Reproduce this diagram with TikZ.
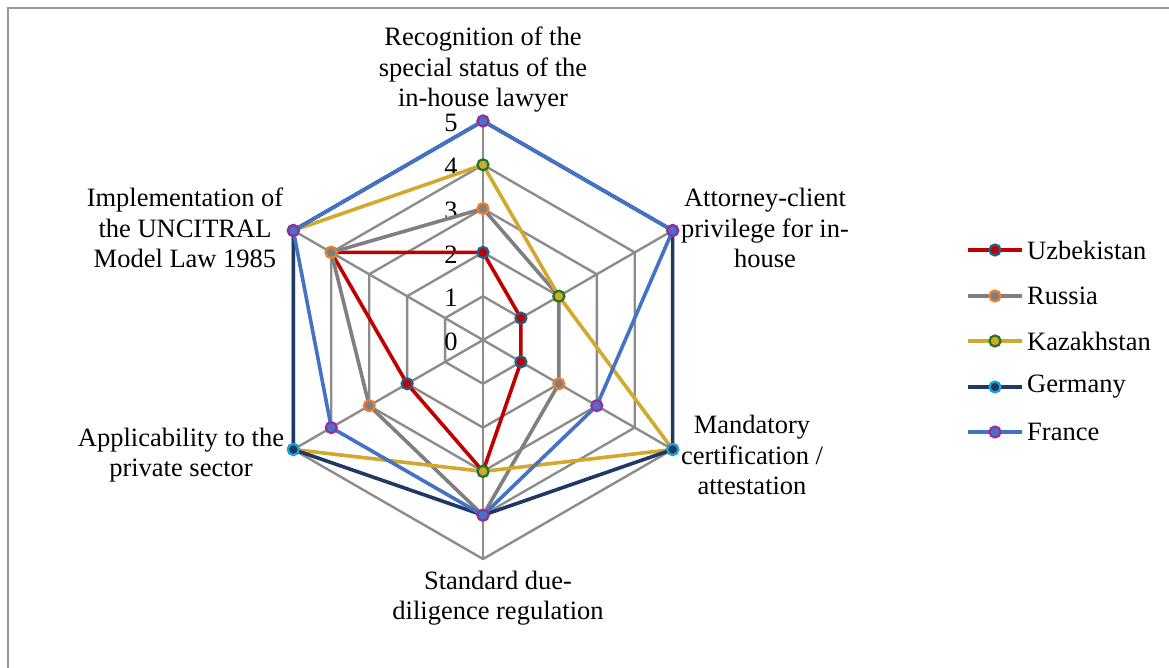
\documentclass[tikz,border=0pt]{standalone}
\usepackage{fontspec}
\setmainfont{Liberation Serif}
\definecolor{gridgray}{HTML}{8C8C8C}
\definecolor{uzred}{HTML}{C00000}
\definecolor{uzedge}{HTML}{215F8A}
\definecolor{rugray}{HTML}{7F7F7F}
\definecolor{ruedge}{HTML}{ED7D31}
\definecolor{kzgold}{HTML}{D2A82E}
\definecolor{kzedge}{HTML}{217821}
\definecolor{denavy}{HTML}{1F3864}
\definecolor{deedge}{HTML}{1AA3D8}
\definecolor{frblue}{HTML}{4472C4}
\definecolor{fredge}{HTML}{9B2D9B}
\def\rr{43.8}
\tikzset{
  frame/.style={draw=gray!80, line width=2pt},
  gridline/.style={draw=gridgray, line width=2.4pt},
  lbl/.style={font=\fontsize{26.5}{30.5}\selectfont, align=center, inner sep=0pt},
  tick/.style={font=\fontsize{26.5}{30}\selectfont, inner sep=0pt},
  mk/.style={circle, inner sep=0pt, minimum size=11pt, line width=2.2pt},
  uzline/.style={draw=uzred, line width=3.6pt, line join=round},
  ruline/.style={draw=rugray, line width=3.6pt, line join=round},
  kzline/.style={draw=kzgold, line width=3.6pt, line join=round},
  deline/.style={draw=denavy, line width=3.6pt, line join=round},
  frline/.style={draw=frblue, line width=3.6pt, line join=round},
  uzmk/.style={mk, fill=uzred, draw=uzedge},
  rumk/.style={mk, fill=rugray, draw=ruedge},
  kzmk/.style={mk, fill=kzgold, draw=kzedge},
  demk/.style={mk, fill=denavy, draw=deedge},
  frmk/.style={mk, fill=frblue, draw=fredge},
}
\begin{document}
\begin{tikzpicture}[x=1pt,y=1pt]
\useasboundingbox (0,0) rectangle (1169,668);
\draw[frame] (8,0) -- (8,660) -- (1169,660);

\begin{scope}[shift={(483,328)}]
  % grid
  \foreach \k in {1,...,5} {
    \draw[gridline] (90:{\k*\rr}) -- (30:{\k*\rr}) -- (-30:{\k*\rr}) -- (-90:{\k*\rr}) -- (210:{\k*\rr}) -- (150:{\k*\rr}) -- cycle;
  }
  \coordinate (c0) at (0,0);
  \foreach \a [count=\i] in {90,30,-30,-90,210,150} {
    \coordinate (ax\i) at (\a:{5*\rr});
    \draw[gridline] (c0) -- (ax\i);
  }
  % tick labels
  \foreach \k in {0,...,5} {
    \node[tick] (t\k) at (-32,{\k*\rr-2}) {\k};
  }
  % series coordinates
  \foreach \v [count=\i] in {2,1,1,3,2,4} { \coordinate (uz\i) at ({150-60*\i}:{\v*\rr}); }
  \foreach \v [count=\i] in {3,2,2,4,3,4} { \coordinate (ru\i) at ({150-60*\i}:{\v*\rr}); }
  \foreach \v [count=\i] in {4,2,5,3,5,5} { \coordinate (kz\i) at ({150-60*\i}:{\v*\rr}); }
  \foreach \v [count=\i] in {5,5,5,4,5,5} { \coordinate (de\i) at ({150-60*\i}:{\v*\rr}); }
  \foreach \v [count=\i] in {5,5,3,4,4,5} { \coordinate (fr\i) at ({150-60*\i}:{\v*\rr}); }
\end{scope}

\foreach \s in {uz,ru,kz,de,fr} {
  \draw[\s line] (\s1) -- (\s2) -- (\s3) -- (\s4) -- (\s5) -- (\s6) -- cycle;
  \foreach \i in {1,...,6} { \node[\s mk] (\s m\i) at (\s\i) {}; }
}

% axis labels
\node[lbl] (l1) at (483,598) {Recognition of the\\special status of the\\in-house lawyer};
\node[lbl] (l2) at (765,440) {Attorney-client\\privilege for in-\\house};
\node[lbl] (l3) at (752,213) {Mandatory\\certification /\\attestation};
\node[lbl] (l4) at (498,70) {Standard due-\\diligence regulation};
\node[lbl] (l5) at (181,213) {Applicability to the\\private sector};
\node[lbl] (l6) at (185,440) {Implementation of\\the UNCITRAL\\Model Law 1985};

% legend
\foreach \s/\name/\y in {uz/Uzbekistan/418, ru/Russia/372, kz/Kazakhstan/327, de/Germany/281, fr/France/236} {
  \coordinate (\s La) at (968,\y);
  \coordinate (\s Lb) at (1022,\y);
  \draw[\s line] (\s La) -- (\s Lb);
  \node[\s mk] (\s Lm) at (995,\y) {};
  \node[lbl, anchor=west] (\s Lt) at (1027,\y) {\name};
}
\end{tikzpicture}
\end{document}
